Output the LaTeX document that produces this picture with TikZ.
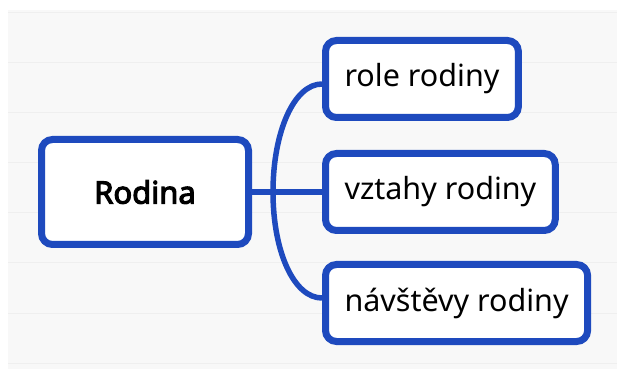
\documentclass[tikz,border=0pt]{standalone}
\usepackage{fontspec}
\setmainfont{Noto Sans}[BoldFont={Noto Sans}, BoldFeatures={FakeBold=3.5}]
\usepackage{xcolor}
\usetikzlibrary{positioning}
\definecolor{mapblue}{RGB}{30,74,190}
\definecolor{paper}{RGB}{248,248,248}
\definecolor{paperline}{RGB}{239,239,239}

\begin{document}
\begin{tikzpicture}[
    x=1pt, y=1pt,
    node distance=29pt and 70pt,
    topic/.style={rectangle, draw=mapblue, line width=7pt, rounded corners=11pt, fill=white, minimum width=207pt, minimum height=105pt, font=\fontsize{31}{36}\selectfont\bfseries},
    leaf/.style={rectangle, draw=mapblue, line width=7pt, rounded corners=11pt, fill=white, minimum height=77pt, inner xsep=19pt, font=\fontsize{30.5}{35}\selectfont},
    branch/.style={draw=mapblue, line width=5.5pt}
]
    % paper
    \useasboundingbox (0,0) rectangle (617,369);
    \fill[white] (0,0) rectangle (617,369);
    \fill[paper] (8,0) rectangle (617,359);
    \foreach \ly in {6,56,...,356}
        \draw[paperline, line width=1pt] (8,\ly) -- (617,\ly);

    \node[topic] (root) at (145,177) {Rodina};
    \node[leaf, right=of root] (vztahy) {vztahy rodiny};
    \node[leaf, above=of vztahy.north west, anchor=south west] (role) {role rodiny};
    \node[leaf, below=27pt of vztahy.south west, anchor=north west] (navstevy) {návštěvy rodiny};
    \coordinate[right=21pt of root] (hub);

    \draw[branch] (root.east) -- (vztahy.west);
    \draw[branch] (hub) .. controls +(0,60) and +(-28,0) .. ([yshift=-5pt]role.west);
    \draw[branch] (hub) .. controls +(0,-60) and +(-28,0) .. ([yshift=5pt]navstevy.west);
\end{tikzpicture}
\end{document}
